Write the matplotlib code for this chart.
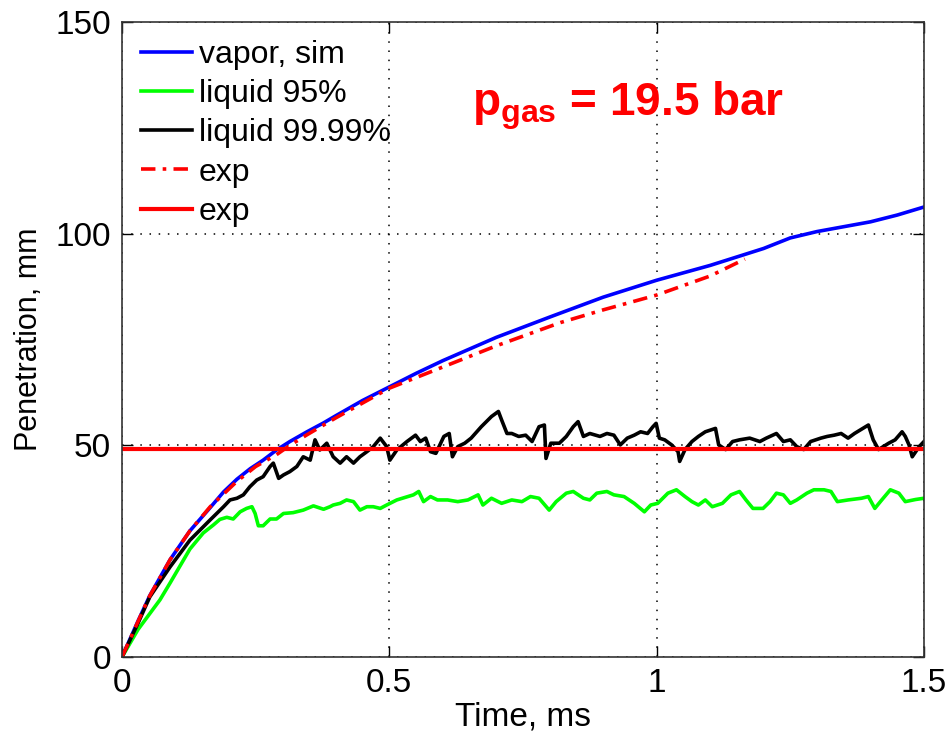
import matplotlib
matplotlib.use("Agg")
import matplotlib.pyplot as plt

plt.rcParams['font.family'] = ['Liberation Sans', 'DejaVu Sans']
plt.rcParams['mathtext.fontset'] = 'custom'
plt.rcParams['mathtext.rm'] = 'Liberation Sans'
plt.rcParams['mathtext.bf'] = 'Liberation Sans:bold'

# ── Data ─────────────────────────────────────────────────────────────────────
t_vapor = [0, 0.03, 0.052, 0.09, 0.127, 0.165, 0.19, 0.215, 0.24, 0.264,
           0.289, 0.314, 0.346, 0.377, 0.4, 0.45, 0.5, 0.55, 0.6, 0.7,
           0.8, 0.9, 1.0, 1.1, 1.2, 1.25, 1.3, 1.4, 1.45, 1.5]
p_vapor = [0, 8.5, 14.5, 23, 29.8, 35.3, 39, 42, 44.5, 46.5,
           48.9, 50.9, 53.2, 55.3, 57, 60.6, 63.8, 67, 70, 75.5,
           80.3, 85, 89, 92.5, 96.5, 99, 100.5, 102.8, 104.4, 106.3]

t_exp_dash = [0, 0.05, 0.09, 0.127, 0.165, 0.215, 0.25, 0.289, 0.314, 0.346,
              0.4, 0.45, 0.5, 0.6, 0.7, 0.82, 0.9, 1.0, 1.1, 1.165]
p_exp_dash = [0, 14, 23, 29.8, 35.5, 41.5, 45, 47.8, 50, 52.5,
              56.5, 60, 63.5, 68.5, 73.5, 79, 82, 85.5, 90, 94]

t_liq95 = [0, 0.03, 0.071, 0.09, 0.127, 0.152, 0.171, 0.183, 0.196, 0.208,
           0.221, 0.233, 0.243, 0.249, 0.255, 0.264, 0.277, 0.289, 0.302, 0.320,
           0.339, 0.358, 0.377, 0.389, 0.395, 0.408, 0.420, 0.433, 0.445, 0.458,
           0.470, 0.483, 0.495, 0.514, 0.545, 0.555, 0.564, 0.577, 0.590, 0.609,
           0.628, 0.647, 0.666, 0.675, 0.691, 0.710, 0.729, 0.748, 0.764, 0.780,
           0.799, 0.812, 0.831, 0.844, 0.863, 0.875, 0.888, 0.907, 0.920, 0.939,
           0.958, 0.977, 0.989, 1.002, 1.021, 1.037, 1.053, 1.066, 1.078, 1.091,
           1.104, 1.123, 1.139, 1.155, 1.167, 1.180, 1.199, 1.212, 1.224, 1.237,
           1.250, 1.262, 1.281, 1.294, 1.313, 1.326, 1.338, 1.358, 1.383, 1.396,
           1.408, 1.421, 1.437, 1.453, 1.465, 1.484, 1.5]
p_liq95 = [0, 6.5, 13.5, 17.5, 25.5, 29.3, 31.2, 32.5, 33, 32.6,
           34.3, 35.1, 35.5, 33.9, 31, 31, 32.6, 32.6, 33.9, 34.1,
           34.7, 35.7, 34.9, 35.5, 35.9, 36.3, 37.1, 36.7, 34.7, 35.5,
           35.5, 35.1, 35.9, 37.1, 38.3, 39.1, 36.7, 37.9, 37.1, 37.1,
           36.7, 37.1, 38.3, 35.9, 37.5, 36.3, 37.1, 36.7, 37.9, 37.5,
           34.7, 36.7, 38.7, 39.1, 37.5, 37.1, 38.7, 39.1, 38.3, 37.9,
           36.3, 34.3, 35.9, 36.3, 38.7, 39.5, 37.9, 36.7, 35.9, 37.1,
           35.5, 36.3, 38.3, 39.1, 37.1, 35.1, 35.1, 36.7, 38.7, 38.3,
           36.3, 37.1, 38.7, 39.5, 39.5, 39.1, 36.7, 37.1, 37.5, 37.9,
           35.1, 37.1, 39.5, 38.7, 36.7, 37.2, 37.5]

t_liq9999 = [0, 0.03, 0.052, 0.09, 0.127, 0.165, 0.19, 0.202, 0.215, 0.227,
             0.239, 0.252, 0.264, 0.277, 0.283, 0.293, 0.302, 0.314, 0.327, 0.339,
             0.352, 0.361, 0.370, 0.383, 0.395, 0.408, 0.420, 0.433, 0.445, 0.458,
             0.470, 0.483, 0.495, 0.501, 0.514, 0.533, 0.549, 0.558, 0.568, 0.577,
             0.587, 0.602, 0.612, 0.618, 0.628, 0.641, 0.653, 0.672, 0.691, 0.704,
             0.710, 0.720, 0.729, 0.742, 0.755, 0.767, 0.780, 0.790, 0.793, 0.802,
             0.818, 0.831, 0.844, 0.853, 0.863, 0.875, 0.894, 0.907, 0.920, 0.932,
             0.945, 0.958, 0.970, 0.983, 0.993, 0.999, 1.005, 1.015, 1.028, 1.040,
             1.043, 1.053, 1.066, 1.078, 1.091, 1.110, 1.116, 1.129, 1.142, 1.155,
             1.174, 1.193, 1.205, 1.224, 1.237, 1.250, 1.262, 1.275, 1.288, 1.307,
             1.319, 1.332, 1.345, 1.358, 1.370, 1.396, 1.405, 1.415, 1.434, 1.446,
             1.459, 1.465, 1.472, 1.478, 1.491, 1.5]
p_liq9999 = [0, 8, 14.2, 21.3, 27.6, 32.4, 35.5, 37.1, 37.5, 38.3,
             40.2, 41.8, 42.6, 45, 45.8, 42.2, 43, 43.8, 45, 47.3,
             46.5, 51.3, 48.9, 50.5, 47.3, 45.8, 47.3, 45.8, 47.3, 48.5,
             49.7, 51.7, 49.7, 46.5, 48.9, 50.9, 52.4, 50.9, 51.7, 48.5,
             48.1, 52.1, 52.8, 47.3, 49.7, 50.5, 51.7, 54.4, 56.8, 58.0,
             56.0, 52.8, 52.8, 52.1, 52.4, 50.9, 54.4, 54.8, 46.9, 50.5,
             50.5, 52.1, 54.4, 55.6, 52.1, 52.8, 52.1, 52.8, 52.4, 50.1,
             51.7, 52.4, 53.2, 52.8, 54.4, 55.2, 51.7, 51.3, 50.1, 48.5,
             46.2, 49.0, 50.9, 52.1, 53.2, 54.0, 50.1, 49.0, 50.9, 51.3,
             51.7, 50.9, 51.7, 52.8, 50.9, 51.3, 49.7, 49.0, 50.9, 51.7,
             52.1, 52.4, 52.8, 51.7, 52.8, 54.8, 51.3, 49.0, 50.5, 51.3,
             53.2, 52.1, 50.1, 47.3, 49.7, 50.9]

exp_liquid_length = 49.1
x_ticks = [0, 0.5, 1, 1.5]
x_ticklabels = ['0', '0.5', '1', '1.5']
y_ticks = [0, 50, 100, 150]

# ── Figure ───────────────────────────────────────────────────────────────────
fig = plt.figure(figsize=(9.49, 7.36), dpi=100)
ax = fig.add_axes([122/949, 79/736, 802/949, 635/736])

lw = 2.6
ax.plot(t_vapor, p_vapor, color=(0, 0, 1), lw=lw, label='vapor, sim')
ax.plot(t_liq95, p_liq95, color=(0, 1, 0), lw=lw, label='liquid 95%')
ax.plot(t_liq9999, p_liq9999, color='black', lw=lw, label='liquid 99.99%')
ax.plot(t_exp_dash, p_exp_dash, color=(1, 0, 0), lw=lw,
        linestyle=(0, (4, 2, 1, 2)), label='exp')
ax.axhline(exp_liquid_length, color=(1, 0, 0), lw=3, label='exp')

ax.set_xlim(0, 1.5)
ax.set_ylim(0, 150)
ax.set_xticks(x_ticks)
ax.set_xticklabels(x_ticklabels)
ax.set_yticks(y_ticks)
ax.grid(True, color='black', linestyle=(0, (1, 5)), linewidth=1.1)
ax.tick_params(direction='in', top=True, right=True, length=8, width=1,
               labelsize=24, pad=8)
for s in ax.spines.values():
    s.set_linewidth(1.2)
    s.set_color('#333333')

ax.set_xlabel('Time, ms', fontsize=24, labelpad=2)
ax.set_ylabel('Penetration, mm', fontsize=22, labelpad=8)

ax.text(0.9466, 128, r'$\mathbf{p_{gas}}$ = 19.5 bar', color=(1, 0, 0),
        fontsize=33, fontweight='bold', ha='center', va='baseline')

leg = ax.legend(loc='upper left', bbox_to_anchor=(0.024, 0.972), frameon=False,
                fontsize=23, handlelength=1.6, handletextpad=0.2,
                labelspacing=0.29, borderpad=0, borderaxespad=0)

fig.savefig('out.png', dpi=100, facecolor='white')
